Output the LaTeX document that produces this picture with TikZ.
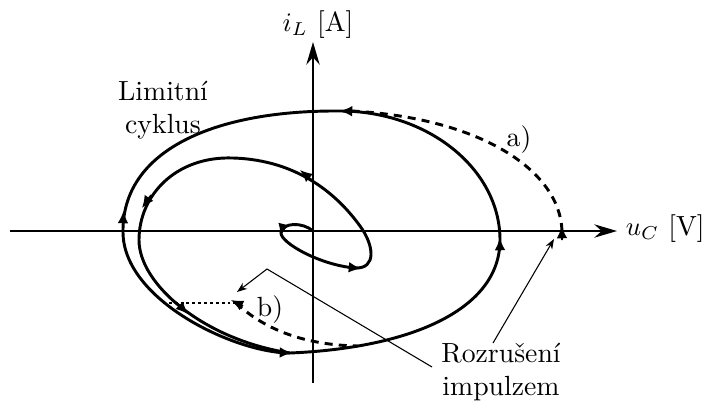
\documentclass[tikz,border=0pt]{standalone}
\usetikzlibrary{arrows.meta}
\begin{document}
\begin{tikzpicture}[x=0.375pt,y=-0.375pt,
  font=\fontsize{10.4}{12.5}\selectfont,
  axis/.style={line width=0.75pt},
  traj/.style={line width=1.1pt},
  dsh/.style={line width=1.1pt, dash pattern=on 3pt off 2.3pt},
  dot/.style={line width=0.5pt, dash pattern=on 1.1pt off 1.1pt},
  tipmark/.style={line width=0.6pt, -{Latex[length=4.6pt,width=4pt]}},
  note/.style={line width=0.4pt, -{Stealth[length=3.8pt,width=2.8pt]}},
  lbl/.style={inner sep=2pt}]
\useasboundingbox (0,0) rectangle (703,405);
% axes
\coordinate (xs) at (10,231);
\coordinate (xe) at (617,231);
\coordinate (ys) at (313,383);
\coordinate (ye) at (313,42);
\draw[axis,-{Stealth[length=8.5pt,width=5pt]}] (xs) -- (xe);
\draw[axis,-{Stealth[length=8.5pt,width=5pt]}] (ys) -- (ye);
\node[lbl,anchor=west] (uc) at (620,229) {$u_C$ [V]};
\node[lbl] (il) at (318,25) {$i_L$ [A]};
% limit cycle
\draw[traj] (340,111) .. controls (428,111) and (500,169) .. (500,240)
  .. controls (500,310) and (410,348) .. (290,353)
  .. controls (235,353) and (123,300) .. (123,232)
  .. controls (122,150) and (215,110) .. cycle;
% spiral
\draw[traj] (313,231) .. controls (303,222) and (282,222) .. (281,233)
  .. controls (281,243) and (320,265) .. (355,268)
  .. controls (377,269) and (374,245) .. (360,226)
  .. controls (339,197) and (300,160) .. (233,158)
  .. controls (176,156) and (139,195) .. (139,240)
  .. controls (139,285) and (205,340) .. (290,353);
% dashed trajectories
\draw[dsh] (562,231) .. controls (560,170) and (480,118) .. (352,111);
\draw[dsh] (236,303) .. controls (262,327) and (300,345) .. (358,346);
\draw[dot] (163,303) -- (236,303);
% arrow marks
\draw[tipmark] (352,111.2) -- (340,111);
\draw[tipmark] (500,250) -- (499.8,238);
\draw[tipmark] (123,223) -- (123.5,211);
\draw[tipmark] (151,195) -- (142,208);
\draw[tipmark] (313,181) -- (300,170);
\draw[tipmark] (283,226) -- (280.5,236);
\draw[tipmark] (346,267) -- (361,268.5);
\draw[tipmark] (176,302) -- (188,314);
\draw[tipmark] (276,352.3) -- (292,353);
\draw[tipmark] (562,240) -- (561.8,226);
\draw[tipmark] (243,306) -- (231,300);
% labels
\node[lbl] (la) at (519,140) {a)};
\node[lbl] (lb) at (270,310) {b)};
\node[lbl,align=center] (lim) at (163,110) {Limitní\\cyklus};
\node[lbl,align=center] (rozr) at (501,372) {Rozrušení\\impulzem};
% annotation lines
\coordinate (p1) at (267,269);
\coordinate (t1) at (237,292);
\coordinate (s1) at (432,367);
\coordinate (s2) at (493,343);
\coordinate (t2) at (554,239);
\draw[note] (s1) -- (p1) -- (t1);
\draw[note] (s2) -- (t2);
\end{tikzpicture}
\end{document}
